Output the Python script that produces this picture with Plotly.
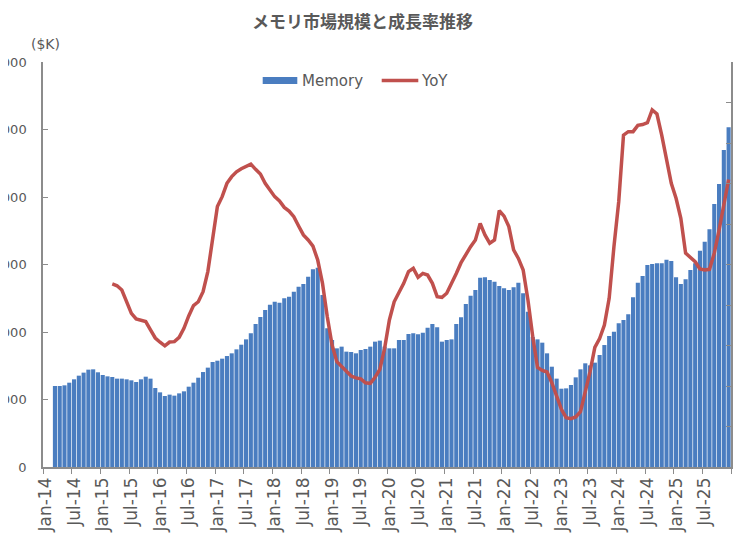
import plotly.graph_objects as go

# -----------------------------
# Data
# -----------------------------
MONTH_NAMES = ["Jan", "Feb", "Mar", "Apr", "May", "Jun",
               "Jul", "Aug", "Sep", "Oct", "Nov", "Dec"]
YEARS = list(range(14, 26))
months = [f"{m}-{y:02d}" for y in YEARS for m in MONTH_NAMES]

# memory market size ($K), Jan-14 .. Dec-25
memory = [None, None,
          12000, 12000, 12100, 12490, 12990, 13530, 13980, 14420, 14470, 14030,
          13630, 13430, 13330, 13090, 13090, 12990, 12840, 12590, 12990, 13380,
          13090, 11700, 11060, 10520, 10720, 10570, 10910, 11210, 11900, 12490,
          13230, 14070, 14720, 15560, 15750, 16050, 16440, 16840, 17430, 18120,
          18910, 19800, 21190, 22220, 23260, 24050, 24490, 24350, 24990, 25240,
          25980, 26720, 27110, 28200, 29280, 29530, 25500, 20540, 18820, 17580,
          17830, 17090, 17040, 16840, 17330, 17480, 17830, 18570, 18720, 17830,
          17580, 17580, 18820, 18820, 19700, 19800, 19650, 19900, 20640, 21190,
          20690, 18570, 18820, 18910, 21190, 22170, 24150, 25380, 26220, 28050,
          28100, 27700, 27460, 26820, 26470, 26220, 26620, 27310, 25730, 23010,
          19310, 18910, 18420, 16840, 14860, 13090, 11600, 11650, 12150, 13280,
          14470, 15360, 15060, 15460, 16590, 18070, 19410, 20050, 21280, 21780,
          22620, 25140, 27310, 28300, 29930, 30070, 30170, 30170, 30720, 30520,
          28100, 27110, 27800, 29190, 30170, 32050, 33380, 35210, 38960, 41930,
          46960, 50320]

# year-over-year growth (%)
yoy = [None] * 14 + [
    10.4, 9.5, 7.4, 1.6, -4.1, -6.9, -7.4, -8.2, -12.3, -16.3,
    -18.4, -20.2, -18.3, -18.1, -16.0, -11.5, -5.4, -0.3, 1.6, 6.6,
    16.5, 33.7, 48.6, 53.5, 60.1, 63.4, 65.8, 67.3, 68.6, 69.6,
    67.0, 64.7, 60.1, 56.8, 53.5, 51.4, 48.2, 46.4, 43.6, 39.0,
    34.6, 32.1, 29.1, 22.2, 10.7, -5.8, -19.8, -28.0, -30.5, -32.8,
    -35.1, -36.0, -36.5, -38.4, -38.7, -35.7, -31.8, -21.4, -7.4, 1.6,
    6.1, 10.7, 16.5, 18.1, 13.7, 15.6, 14.8, 10.7, 4.1, 3.8,
    5.8, 10.4, 15.6, 20.9, 25.0, 28.8, 32.1, 40.3, 34.6, 30.5,
    32.1, 46.6, 43.9, 38.7, 27.2, 23.0, 17.3, 2.5, -15.6, -30.8,
    -32.3, -33.1, -38.4, -44.9, -51.5, -55.6, -56.1, -55.3, -52.7, -42.8,
    -32.9, -20.9, -16.6, -9.9, 3.3, 28.8, 51.0, 83.9, 85.6, 85.6,
    88.7, 89.1, 90.0, 96.3, 94.3, 83.9, 72.4, 60.1, 52.7, 42.8,
    25.6, 23.6, 21.4, 17.8, 17.3, 17.6, 25.6, 37.0, 48.6, 62.0]

# -----------------------------
# Styling
# -----------------------------
BLUE = "#4a7dc0"
RED = "#c0504d"
GREY_TXT = "#595959"
AXIS_GREY = "#8c8c8c"
FONT = "DejaVu Sans"

# page has an 8px body margin, so the figure is drawn 8px in from the corner
OFF = 8
W, H = 750 - OFF, 536 - OFF
ML, MR, MT, MB = 43 - OFF, 19, 62 - OFF, 69
PW, PH = W - ML - MR, H - MT - MB

def px_x(px):
    # page pixel -> paper fraction
    return (px - OFF - ML) / PW

def px_y(py):
    return (H - MB - (py - OFF)) / PH

fig = go.Figure()

fig.add_trace(go.Bar(
    x=months, y=memory, name="Memory",
    marker=dict(color=BLUE, line=dict(width=0)),
    showlegend=False,
))
fig.add_trace(go.Scatter(
    x=months, y=yoy, name="YoY", yaxis="y2", mode="lines",
    line=dict(color=RED, width=3.5),
    showlegend=False,
))

# hand-made legend (wide Excel-style keys)
fig.add_shape(type="rect", xref="paper", yref="paper",
              x0=px_x(262.7), x1=px_x(297.3), y0=px_y(84), y1=px_y(77),
              fillcolor=BLUE, line=dict(width=0))
fig.add_shape(type="line", xref="paper", yref="paper",
              x0=px_x(381.7), x1=px_x(418.3), y0=px_y(80.5), y1=px_y(80.5),
              line=dict(color=RED, width=3.5))
fig.add_annotation(text="Memory", xref="paper", yref="paper",
                   x=px_x(300), y=px_y(80.5), xanchor="left", yanchor="middle",
                   showarrow=False, font=dict(size=15, color=GREY_TXT))
fig.add_annotation(text="YoY", xref="paper", yref="paper",
                   x=px_x(418.5), y=px_y(80.5), xanchor="left", yanchor="middle",
                   showarrow=False, font=dict(size=15, color=GREY_TXT))
fig.add_annotation(text="($K)", xref="paper", yref="paper",
                   x=px_x(45), y=px_y(44), xanchor="center", yanchor="middle",
                   showarrow=False, font=dict(size=14, color=GREY_TXT))

fig.update_layout(
    title=dict(text="<b>メモリ市場規模と成長率推移</b>",
               x=(362.5 - OFF) / W, y=1 - (21.7 - OFF) / H,
               xanchor="center", yanchor="middle",
               font=dict(family="Noto Sans CJK JP", size=17, color=GREY_TXT)),
    template="none",
    width=W, height=H,
    margin=dict(l=ML, r=MR, t=MT, b=MB),
    paper_bgcolor="white", plot_bgcolor="white",
    font=dict(family=FONT, color=GREY_TXT, size=13),
    bargap=0.14,
    xaxis=dict(type="category", range=[-0.5, len(months) - 0.5],
               tickmode="linear", tick0=0, dtick=6, tickson="boundaries",
               tickangle=-90, tickfont=dict(size=17),
               ticks="outside", ticklen=5, tickcolor=AXIS_GREY,
               ticklabelstandoff=2,
               showline=True, linecolor=AXIS_GREY, linewidth=1.5,
               showgrid=False, zeroline=False, automargin=False),
    yaxis=dict(range=[0, 60000], dtick=10000, tickformat="d",
               ticks="inside", ticklen=5, tickcolor=AXIS_GREY,
               ticklabelstandoff=12,
               showline=True, linecolor=AXIS_GREY, linewidth=1.5,
               showgrid=False, zeroline=False, automargin=False),
    yaxis2=dict(range=[-80, 120], dtick=20, ticksuffix="%",
                overlaying="y", side="right",
                ticks="inside", ticklen=5, tickcolor=AXIS_GREY,
                ticklabelstandoff=8,
                showline=True, linecolor=AXIS_GREY, linewidth=1.5,
                showgrid=False, zeroline=False, automargin=False),
)

fig.write_html("out.html")
